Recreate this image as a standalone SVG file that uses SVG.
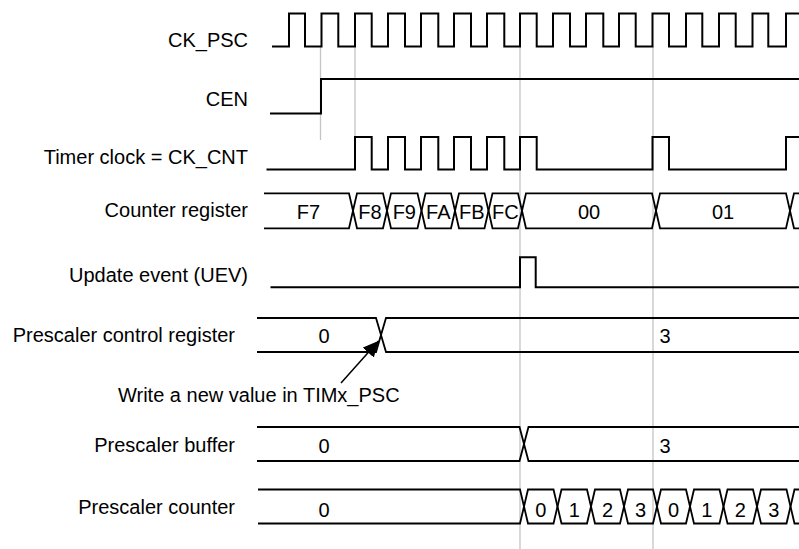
<svg xmlns="http://www.w3.org/2000/svg" width="799" height="549" viewBox="0 0 799 549">
<style>
.w{fill:none;stroke:#000;stroke-width:2;stroke-linejoin:miter}
.b{fill:none;stroke:#000;stroke-width:1.8;stroke-linejoin:miter}
.g{stroke:#c4c4c4;stroke-width:1.3;fill:none}
text{font-family:"Liberation Sans",Arial,Helvetica,sans-serif;font-size:20px;fill:#000}
.l{text-anchor:end}
.c{text-anchor:middle}
</style>
<defs>
<marker id="ah" markerUnits="userSpaceOnUse" markerWidth="16" markerHeight="15" viewBox="0 0 16 15" refX="15.5" refY="7.5" orient="auto">
<path d="M0,0 L16,7.5 L0,15 z" fill="#000"/>
</marker>
</defs>
<rect width="799" height="549" fill="#fff"/>
<g id="guides">
<line class="g" x1="320.5" y1="46" x2="320.5" y2="140"/>
<line class="g" x1="355" y1="47" x2="355" y2="137"/>
<line class="g" x1="520" y1="46" x2="520" y2="549"/>
<line class="g" x1="653" y1="46" x2="653" y2="549"/>
</g>
<g id="ck_psc">
<text class="l" x="248" y="47">CK_PSC</text>
<path class="w" d="M272,46.5 H289 V13.5 H305 V46.5 H321.5 V13.5 H338.3 V46.5 H355 V13.5 H371.7 V46.5 H388 V13.5 H405 V46.5 H421 V13.5 H438.3 V46.5 H454 V13.5 H471 V46.5 H487 V13.5 H504.3 V46.5 H520 V13.5 H536.7 V46.5 H553 V13.5 H570 V46.5 H586 V13.5 H603.3 V46.5 H619 V13.5 H635.7 V46.5 H652.5 V13.5 H669 V46.5 H686 V13.5 H702.3 V46.5 H719 V13.5 H735.7 V46.5 H752.5 V13.5 H768.3 V46.5 H786 V13.5 H799"/>
</g>
<g id="cen">
<text class="l" x="248" y="106">CEN</text>
<path class="w" d="M270,113.5 H321 V79 H799"/>
</g>
<g id="timer_clock">
<text class="l" x="248" y="164">Timer clock = CK_CNT</text>
<path class="w" d="M266.5,169.5 H355 V137 H371.7 V169.5 H388 V137 H405 V169.5 H421 V137 H438.3 V169.5 H454 V137 H471 V169.5 H487 V137 H504.3 V169.5 H520 V137 H536.7 V169.5 H652.5 V137 H669 V169.5 H786 V137 H799"/>
</g>
<g id="counter_register">
<text class="l" x="248" y="217">Counter register</text>
<path class="b" d="M264,193.3 H349 L353,210.8 L349,228.3 H264"/>
<path class="b" d="M353,210.8 L357,193.3 H383 L387,210.8 L383,228.3 H357 Z"/>
<path class="b" d="M387,210.8 L391,193.3 H417.5 L421.5,210.8 L417.5,228.3 H391 Z"/>
<path class="b" d="M421.5,210.8 L425.5,193.3 H451 L455,210.8 L451,228.3 H425.5 Z"/>
<path class="b" d="M455,210.8 L459,193.3 H484.5 L488.5,210.8 L484.5,228.3 H459 Z"/>
<path class="b" d="M488.5,210.8 L492.5,193.3 H518 L522,210.8 L518,228.3 H492.5 Z"/>
<path class="b" d="M522,210.8 L526,193.3 H652 L656,210.8 L652,228.3 H526 Z"/>
<path class="b" d="M656,210.8 L660,193.3 H786 L790,210.8 L786,228.3 H660 Z"/>
<path class="b" d="M799,193.3 H794 L790,210.8 L794,228.3 H799"/>
<text class="c" x="308.5" y="219">F7</text>
<text class="c" x="370" y="219">F8</text>
<text class="c" x="404.3" y="219">F9</text>
<text class="c" x="438.3" y="219">FA</text>
<text class="c" x="471.8" y="219">FB</text>
<text class="c" x="505.3" y="219">FC</text>
<text class="c" x="589" y="219">00</text>
<text class="c" x="723" y="219">01</text>
</g>
<g id="update_event">
<text class="l" x="248" y="282">Update event (UEV)</text>
<path class="w" d="M270.5,287.3 H520 V257.3 H535.7 V287.3 H799"/>
</g>
<g id="prescaler_control_register">
<text class="l" x="235" y="342">Prescaler control register</text>
<path class="b" d="M257,318 H376 L381,335 L376,352 H257"/>
<path class="b" d="M799,318 H386 L381,335 L386,352 H799"/>
<text class="c" x="324" y="343">0</text>
<text class="c" x="665" y="343">3</text>
</g>
<g id="note">
<text x="118" y="401.5">Write a new value in TIMx_PSC</text>
</g>
<g id="prescaler_buffer">
<text class="l" x="235" y="451.5">Prescaler buffer</text>
<path class="b" d="M257,427 H519.5 L524,444 L519.5,461 H257"/>
<path class="b" d="M799,427 H528.5 L524,444 L528.5,461 H799"/>
<text class="c" x="324" y="453">0</text>
<text class="c" x="665" y="453">3</text>
</g>
<g id="prescaler_counter">
<text class="l" x="235" y="514">Prescaler counter</text>
<path class="b" d="M258,489.5 H520 L524,506.5 L520,523.5 H258"/>
<path class="b" d="M524,506.5 L528,489.5 H553.5 L557.5,506.5 L553.5,523.5 H528 Z"/>
<path class="b" d="M557.5,506.5 L561.5,489.5 H587 L591,506.5 L587,523.5 H561.5 Z"/>
<path class="b" d="M591,506.5 L595,489.5 H620 L624,506.5 L620,523.5 H595 Z"/>
<path class="b" d="M624,506.5 L628,489.5 H653 L657,506.5 L653,523.5 H628 Z"/>
<path class="b" d="M657,506.5 L661,489.5 H686 L690,506.5 L686,523.5 H661 Z"/>
<path class="b" d="M690,506.5 L694,489.5 H719.5 L723.5,506.5 L719.5,523.5 H694 Z"/>
<path class="b" d="M723.5,506.5 L727.5,489.5 H753 L757,506.5 L753,523.5 H727.5 Z"/>
<path class="b" d="M757,506.5 L761,489.5 H786.5 L790.5,506.5 L786.5,523.5 H761 Z"/>
<path class="b" d="M799,489.5 H794.5 L790.5,506.5 L794.5,523.5 H799"/>
<text class="c" x="324" y="516.5">0</text>
<text class="c" x="540.8" y="516.5">0</text>
<text class="c" x="574.3" y="516.5">1</text>
<text class="c" x="607.5" y="516.5">2</text>
<text class="c" x="640.5" y="516.5">3</text>
<text class="c" x="673.5" y="516.5">0</text>
<text class="c" x="706.8" y="516.5">1</text>
<text class="c" x="740.3" y="516.5">2</text>
<text class="c" x="773.8" y="516.5">3</text>
</g>
<g id="connectors">
<line x1="341" y1="383" x2="378.5" y2="341" stroke="#000" stroke-width="1.5" marker-end="url(#ah)"/>
</g>
</svg>
